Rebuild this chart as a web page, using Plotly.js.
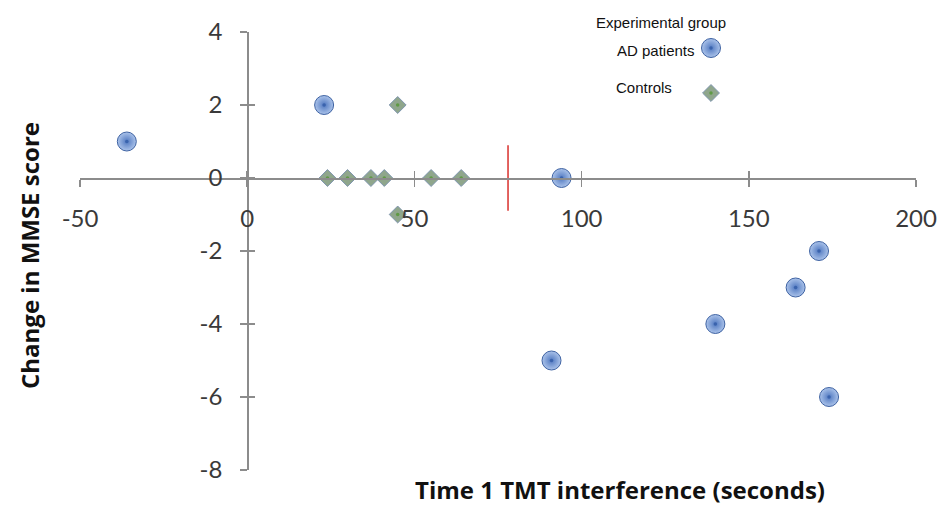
<!DOCTYPE html>
<html>
<head>
<meta charset="utf-8">
<script src="https://cdn.plot.ly/plotly-3.0.1.min.js"></script>
<style>html,body{margin:0;padding:0;background:#fff}</style>
</head>
<body>
<div id="chart" style="width:943px;height:508px"></div>
<script>
// AD patients: baseline TMT interference (s) vs change in MMSE
const adTime = [-36, 23, 94, 91, 140, 164, 171, 174];
const adChange = [1, 2, 0, -5, -4, -3, -2, -6];
// Controls
const ctrlTime = [24, 30, 37, 41, 55, 64, 45, 45];
const ctrlChange = [0, 0, 0, 0, 0, 0, 2, -1];
// cut-off marker on the time axis
const cutoffTime = 78;
const xTicks = [-50, 0, 50, 100, 150, 200];
const xTickText = ['-50', '0', '50', '100', '150', '200'];
const yTicks = [-8, -6, -4, -2, 0, 2, 4];
const yTickText = ['-8', '-6', '-4', '-2', '0', '2', '4'];
const groupNames = ['AD patients', 'Controls'];

const X_RANGE = [-50, 200];
const Y_RANGE = [-8, 4];
const M = {l: 80, r: 27, t: 32, b: 38};
const W = 943, H = 508;
const plotW = W - M.l - M.r, plotH = H - M.t - M.b;
// where the axes cross (paper fractions)
const xCross = (0 - X_RANGE[0]) / (X_RANGE[1] - X_RANGE[0]);
const yCross = (0 - Y_RANGE[0]) / (Y_RANGE[1] - Y_RANGE[0]);
const px = x => (x - M.l) / plotW;
const py = y => (H - M.b - y) / plotH;

const AXIS_COL = '#8c8c8c';
const TICK_FONT = {family: 'Lato, "Open Sans", sans-serif', size: 24, color: '#3a3a3a'};
const TITLE_FONT = {family: '"Open Sans", Lato, sans-serif', size: 24, color: '#111', weight: 'bold'};
const KEY_FONT = {family: '"Liberation Sans", Arial, sans-serif', size: 15, color: '#111'};

const adMarker = {symbol: 'circle', size: 19, color: '#abc3ea',
  gradient: {type: 'radial', color: '#5078c0'}, line: {color: '#3f63a3', width: 1}};
const adDot = {size: 3.5, color: '#3a63ad'};
const ctrlMarker = {symbol: 'diamond', size: 13, color: '#8fa68c',
  line: {color: '#8096b0', width: 1}};
const ctrlDot = {size: 3.5, color: '#5f9a45'};

const traces = [
  {x: adTime, y: adChange, type: 'scatter', mode: 'markers', name: groupNames[0],
   marker: adMarker, hoverinfo: 'x+y'},
  {x: adTime, y: adChange, type: 'scatter', mode: 'markers', showlegend: false,
   marker: adDot, hoverinfo: 'skip'},
  {x: ctrlTime, y: ctrlChange, type: 'scatter', mode: 'markers', name: groupNames[1],
   marker: ctrlMarker, hoverinfo: 'x+y'},
  {x: ctrlTime, y: ctrlChange, type: 'scatter', mode: 'markers', showlegend: false,
   marker: ctrlDot, hoverinfo: 'skip'},
  // companion axes that supply the inner half of each crossing tick
  {x: [], y: [], xaxis: 'x2', yaxis: 'y2', type: 'scatter', showlegend: false},
  // key symbols placed in pixel space
  {x: [711], y: [48], xaxis: 'x3', yaxis: 'y3', type: 'scatter', mode: 'markers',
   marker: adMarker, showlegend: false, hoverinfo: 'skip'},
  {x: [711], y: [48], xaxis: 'x3', yaxis: 'y3', type: 'scatter', mode: 'markers',
   marker: adDot, showlegend: false, hoverinfo: 'skip'},
  {x: [711], y: [93], xaxis: 'x3', yaxis: 'y3', type: 'scatter', mode: 'markers',
   marker: ctrlMarker, showlegend: false, hoverinfo: 'skip'},
  {x: [711], y: [93], xaxis: 'x3', yaxis: 'y3', type: 'scatter', mode: 'markers',
   marker: ctrlDot, showlegend: false, hoverinfo: 'skip'}
];

const baseX = {
  range: X_RANGE, domain: [0, 1], anchor: 'free', position: yCross,
  tickmode: 'array', tickvals: xTicks, ticktext: xTickText, showgrid: false, zeroline: false,
  showline: true, linecolor: AXIS_COL, linewidth: 1.5,
  ticks: 'outside', ticklen: 7, tickwidth: 1.5, tickcolor: AXIS_COL,
  tickfont: TICK_FONT, ticklabelstandoff: 12, fixedrange: true
};
const baseY = {
  range: Y_RANGE, domain: [0, 1], anchor: 'free', position: xCross,
  tickmode: 'array', tickvals: yTicks, ticktext: yTickText, showgrid: false, zeroline: false,
  showline: true, linecolor: AXIS_COL, linewidth: 1.5,
  ticks: 'outside', ticklen: 7, tickwidth: 1.5, tickcolor: AXIS_COL,
  tickfont: TICK_FONT, ticklabelstandoff: 13, fixedrange: true
};

const layout = {
  width: W, height: H, margin: M, showlegend: false,
  paper_bgcolor: '#fff', plot_bgcolor: 'rgba(0,0,0,0)',
  xaxis: baseX,
  yaxis: baseY,
  xaxis2: Object.assign({}, baseX, {overlaying: 'x', ticks: 'inside', showticklabels: false, showline: false}),
  yaxis2: Object.assign({}, baseY, {overlaying: 'y', ticks: 'inside', showticklabels: false, showline: false}),
  xaxis3: {range: [M.l, W - M.r], overlaying: 'x', anchor: 'y3', visible: false, fixedrange: true},
  yaxis3: {range: [H - M.b, M.t], overlaying: 'y', anchor: 'x3', visible: false, fixedrange: true},
  shapes: [{type: 'line', xref: 'x', yref: 'y', x0: cutoffTime, x1: cutoffTime, y0: -0.9, y1: 0.9,
            line: {color: '#d9302c', width: 1.5}, layer: 'below'}],
  annotations: [
    {text: 'Time 1 TMT interference (seconds)', xref: 'paper', yref: 'paper',
     x: px(620), y: py(490), xanchor: 'center', yanchor: 'middle', showarrow: false, font: TITLE_FONT},
    {text: 'Change in MMSE score', xref: 'paper', yref: 'paper', textangle: -90,
     x: px(29), y: py(256), xanchor: 'center', yanchor: 'middle', showarrow: false, font: TITLE_FONT},
    {text: 'Experimental group', xref: 'paper', yref: 'paper',
     x: px(661), y: py(22), xanchor: 'center', yanchor: 'middle', showarrow: false, font: KEY_FONT},
    {text: groupNames[0], xref: 'paper', yref: 'paper',
     x: px(697), y: py(50), xanchor: 'right', yanchor: 'middle', showarrow: false, font: KEY_FONT},
    {text: groupNames[1], xref: 'paper', yref: 'paper',
     x: px(674), y: py(87), xanchor: 'right', yanchor: 'middle', showarrow: false, font: KEY_FONT}
  ]
};

Plotly.newPlot('chart', traces, layout, {displayModeBar: false, staticPlot: true});
</script>
</body>
</html>
